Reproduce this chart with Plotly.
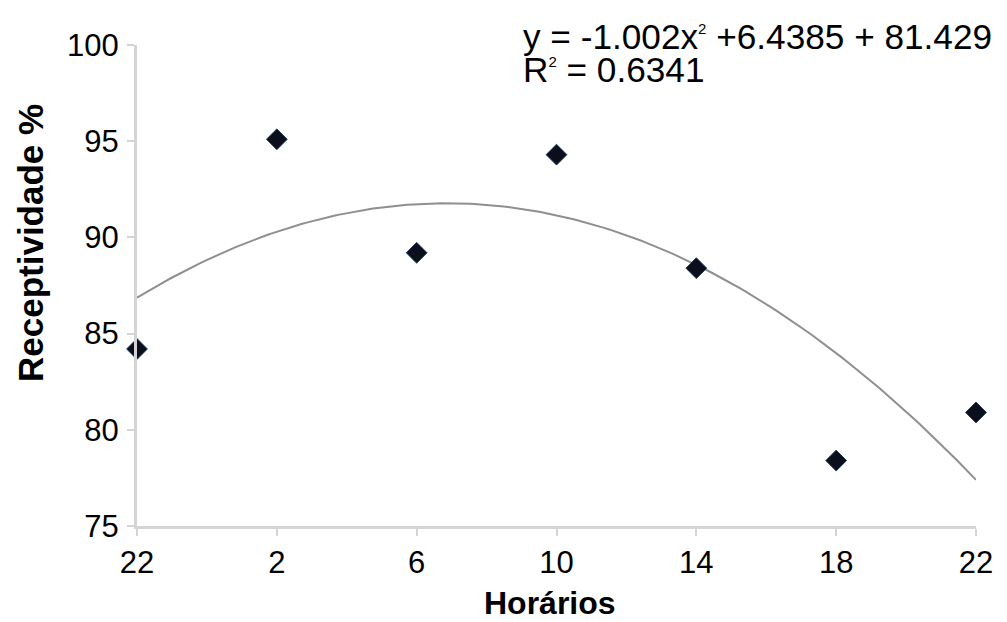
import numpy as np
import plotly.graph_objects as go

# Data
horarios = ["22", "2", "6", "10", "14", "18", "22"]
positions = [1, 2, 3, 4, 5, 6, 7]
receptividade = [84.2, 95.1, 89.2, 94.3, 88.4, 78.4, 80.9]
trend_coef = [-1.002, 6.4385, 81.429]  # y = a x^2 + b x + c
y_ticks = [75, 80, 85, 90, 95, 100]

OFF = 8  # page body margin
W, H = 1007 - OFF, 622 - OFF
# desired plot area in screen px: x 137..976, y 45..526
L, T = 137 - OFF, 45 - OFF
R = W - (976 - OFF)
B = H - (526 - OFF)
pw, ph = W - L - R, H - T - B

def px_x(px):
    return (px - OFF - L) / pw

def px_y(py):
    return (H - B - (py - OFF)) / ph

xs = np.linspace(1, 7, 200)
ys = np.polyval(trend_coef, xs)

FONT = "Liberation Sans, Arial, sans-serif"

fig = go.Figure()
fig.add_trace(go.Scatter(x=xs, y=ys, mode="lines",
                         line=dict(color="#8f8f8f", width=2),
                         hoverinfo="skip", showlegend=False))
fig.add_trace(go.Scatter(x=positions, y=receptividade, mode="markers",
                         marker=dict(symbol="diamond", size=16, color="#0b0f1c",
                                     line=dict(color="#233a5a", width=1)),
                         cliponaxis=False, showlegend=False))

fig.update_layout(
    width=W, height=H,
    margin=dict(l=L, r=R, t=T, b=B),
    paper_bgcolor="white", plot_bgcolor="white",
    font=dict(family=FONT, color="black"),
    xaxis=dict(range=[1, 7], tickvals=positions, ticktext=horarios,
               showline=True, linecolor="#d4d4d4", linewidth=3,
               ticks="outside", ticklen=7, tickwidth=2, tickcolor="#d4d4d4",
               showgrid=False, zeroline=False,
               tickfont=dict(size=31, family=FONT, color="black")),
    yaxis=dict(range=[75, 100], tickvals=y_ticks,
               showline=True, linecolor="#d4d4d4", linewidth=3,
               ticks="outside", ticklen=7, tickwidth=2, tickcolor="#d4d4d4",
               showgrid=False, zeroline=False, ticklabelstandoff=2,
               tickfont=dict(size=31, family=FONT, color="black")),
)

fig.add_annotation(text="<b>Receptividade %</b>", textangle=-90,
                   xref="paper", yref="paper", x=px_x(30), y=px_y(243),
                   xanchor="center", yanchor="middle", showarrow=False,
                   font=dict(size=35, family=FONT, color="black"))
fig.add_annotation(text="<b>Horários</b>",
                   xref="paper", yref="paper", x=px_x(550), y=px_y(603),
                   xanchor="center", yanchor="middle", showarrow=False,
                   borderpad=0,
                   font=dict(size=32, family=FONT, color="black"))
fig.add_annotation(text="y = -1.002x<sup><span style='font-size:15px'>2</span></sup> +6.4385 + 81.429",
                   xref="paper", yref="paper", x=px_x(521), y=px_y(36),
                   xanchor="left", yanchor="middle", showarrow=False,
                   font=dict(size=35.2, family=FONT, color="black"))
fig.add_annotation(text="R<sup><span style='font-size:15px'>2</span></sup> = 0.6341",
                   xref="paper", yref="paper", x=px_x(521), y=px_y(69),
                   xanchor="left", yanchor="middle", showarrow=False,
                   font=dict(size=35.2, family=FONT, color="black"))

fig.write_html("out.html")
